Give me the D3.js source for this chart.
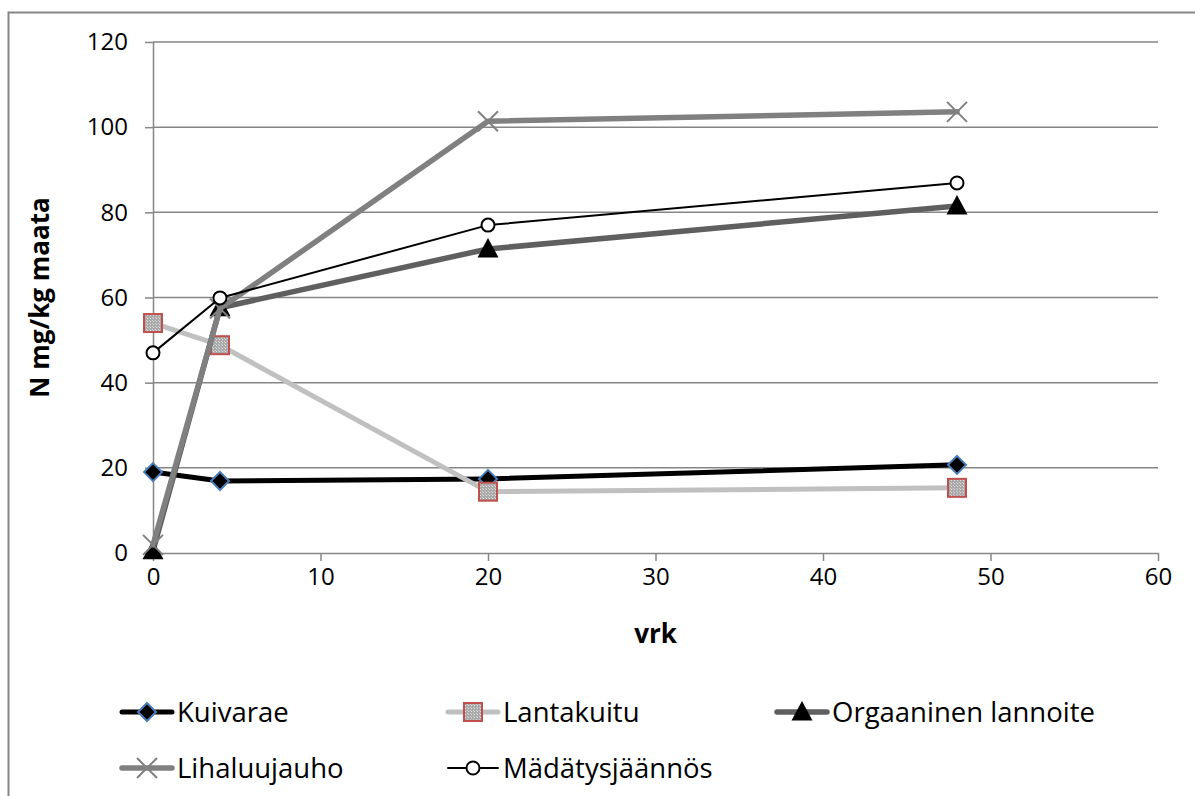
<!DOCTYPE html>
<html>
<head>
<meta charset="utf-8">
<script src="https://cdn.jsdelivr.net/npm/d3@7"></script>
<style>
  html, body { margin: 0; padding: 0; background: #fff; }
  svg { display: block; font-family: "Open Sans", "Noto Sans", sans-serif; }
</style>
</head>
<body>
<svg id="chart" width="1195" height="796"></svg>
<script>
// Sampling days
const days = [0, 4, 20, 48];

// Soluble nitrogen, mg N per kg soil
const kuivarae = [19.0, 16.9, 17.4, 20.7];
const lantakuitu = [54.0, 48.8, 14.4, 15.3];
const orgaaninenLannoite = [0.5, 57.6, 71.4, 81.5];
const lihaluujauho = [1.9, 57.4, 101.4, 103.6];
const madatysjaannos = [47.0, 59.9, 77.0, 86.9];

const xTicks = [0, 10, 20, 30, 40, 50, 60];
const yTicks = [0, 20, 40, 60, 80, 100, 120];

const seriesNames = ["Kuivarae", "Lantakuitu", "Orgaaninen lannoite", "Lihaluujauho", "Mädätysjäännös"];

const svg = d3.select("#chart");
const gridColor = "#868686";

const margin = { left: 153, right: 1158, top: 42, bottom: 553 };
const x = d3.scaleLinear().domain([0, 60]).range([margin.left, margin.right]);
const y = d3.scaleLinear().domain([0, 120]).range([margin.bottom, margin.top]);

// Outer chart frame
svg.append("rect")
  .attr("x", 8.5).attr("y", 12.5)
  .attr("width", 1300).attr("height", 900)
  .attr("fill", "none").attr("stroke", gridColor).attr("stroke-width", 2);

// Pattern fill for the square markers
const defs = svg.append("defs");
const pat = defs.append("pattern")
  .attr("id", "dots").attr("patternUnits", "userSpaceOnUse")
  .attr("width", 3).attr("height", 3);
pat.append("rect").attr("width", 3).attr("height", 3).attr("fill", "#a9a9a9");
pat.append("rect").attr("width", 1).attr("height", 1).attr("fill", "#e0e0e0");
pat.append("rect").attr("x", 2).attr("y", 2).attr("width", 1).attr("height", 1).attr("fill", "#d0d0d0");

// Horizontal gridlines
svg.append("g")
  .selectAll("line").data(yTicks.filter(t => t > 0)).join("line")
  .attr("x1", margin.left).attr("x2", margin.right)
  .attr("y1", d => y(d)).attr("y2", d => y(d))
  .attr("stroke", gridColor).attr("stroke-width", 1.5);

// Axes
const yAxis = svg.append("g")
  .attr("transform", `translate(${margin.left},0)`)
  .call(d3.axisLeft(y).tickValues(yTicks).tickSize(8).tickPadding(17).tickSizeOuter(0));
const xAxis = svg.append("g")
  .attr("transform", `translate(0,${margin.bottom})`)
  .call(d3.axisBottom(x).tickValues(xTicks).tickSize(8).tickPadding(7).tickSizeOuter(0));

[yAxis, xAxis].forEach(g => {
  g.select(".domain").attr("stroke", gridColor).attr("stroke-width", 1.5);
  g.selectAll(".tick line").attr("stroke", gridColor).attr("stroke-width", 1.5);
  g.selectAll(".tick text")
    .attr("fill", "#000")
    .style("font-family", "'Open Sans', sans-serif")
    .style("font-size", "24px");
});

// Axis titles
svg.append("text")
  .attr("transform", `translate(49,${(margin.top + margin.bottom) / 2}) rotate(-90)`)
  .attr("text-anchor", "middle")
  .style("font-size", "26px").style("font-weight", "bold")
  .text("N mg/kg maata");
svg.append("text")
  .attr("x", (margin.left + margin.right) / 2).attr("y", 643)
  .attr("text-anchor", "middle")
  .style("font-size", "26px").style("font-weight", "bold")
  .text("vrk");

// Marker drawers
function diamond(g, cx, cy) {
  g.append("path")
    .attr("d", `M${cx},${cy - 9}L${cx + 9},${cy}L${cx},${cy + 9}L${cx - 9},${cy}Z`)
    .attr("fill", "#000").attr("stroke", "#4a7ebb").attr("stroke-width", 2);
}
function square(g, cx, cy) {
  g.append("rect")
    .attr("x", cx - 9).attr("y", cy - 9).attr("width", 18).attr("height", 18)
    .attr("fill", "url(#dots)").attr("stroke", "#c0504d").attr("stroke-width", 2);
}
function triangle(g, cx, cy) {
  g.append("path")
    .attr("d", `M${cx},${cy - 11}L${cx + 10.5},${cy + 8.5}L${cx - 10.5},${cy + 8.5}Z`)
    .attr("fill", "#000");
}
function cross(g, cx, cy) {
  g.append("path")
    .attr("d", `M${cx - 10},${cy - 10}L${cx + 10},${cy + 10}M${cx + 10},${cy - 10}L${cx - 10},${cy + 10}`)
    .attr("stroke", "#808080").attr("stroke-width", 2);
}
function circle(g, cx, cy) {
  g.append("circle").attr("cx", cx).attr("cy", cy).attr("r", 6.5)
    .attr("fill", "#fff").attr("stroke", "#000").attr("stroke-width", 2);
}

const series = [
  { name: seriesNames[0], values: kuivarae, color: "#000000", width: 5, marker: diamond },
  { name: seriesNames[1], values: lantakuitu, color: "#c0c0c0", width: 5, marker: square },
  { name: seriesNames[2], values: orgaaninenLannoite, color: "#5f5f5f", width: 5.5, marker: triangle },
  { name: seriesNames[3], values: lihaluujauho, color: "#808080", width: 5.5, marker: cross },
  { name: seriesNames[4], values: madatysjaannos, color: "#000000", width: 2, marker: circle }
];

const line = d3.line().x(d => x(d[0])).y(d => y(d[1]));

series.forEach(s => {
  const g = svg.append("g");
  const pts = days.map((d, i) => [d, s.values[i]]);
  g.append("path")
    .attr("d", line(pts))
    .attr("fill", "none").attr("stroke", s.color)
    .attr("stroke-width", s.width).attr("stroke-linejoin", "round").attr("stroke-linecap", "round");
  pts.forEach(p => s.marker(g, x(p[0]), y(p[1])));
});

// Legend
const legendPos = [
  { x: 120, y: 712 }, { x: 446, y: 712 }, { x: 775, y: 712 },
  { x: 120, y: 768 }, { x: 446, y: 768 }
];
series.forEach((s, i) => {
  const p = legendPos[i];
  const g = svg.append("g");
  g.append("line")
    .attr("x1", p.x + 2).attr("x2", p.x + 52).attr("y1", p.y).attr("y2", p.y)
    .attr("stroke", s.color).attr("stroke-width", s.width).attr("stroke-linecap", "round");
  s.marker(g, p.x + 27, p.y);
  g.append("text")
    .attr("x", p.x + 57).attr("y", p.y + 10)
    .style("font-size", "27.5px")
    .text(s.name);
});
</script>
</body>
</html>
